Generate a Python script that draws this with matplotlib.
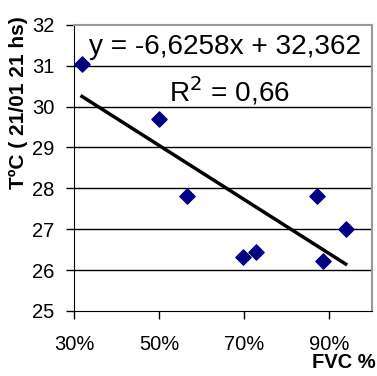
import numpy as np
import matplotlib.pyplot as plt

plt.rcParams['font.family'] = ['Liberation Sans', 'DejaVu Sans']

# FVC fraction vs temperature
fvc = [0.319, 0.50, 0.566, 0.697, 0.728, 0.870, 0.884, 0.938]
temp = [31.05, 29.70, 27.80, 26.33, 26.43, 27.80, 26.23, 27.00]
slope, intercept = -6.6258, 32.362

fig = plt.figure(figsize=(3.77, 3.76), dpi=100)
ax = fig.add_axes([0.196, 0.173, 0.791, 0.761])

for yv in range(26, 32):
    ax.axhline(yv, color='black', lw=1, zorder=1)

xl = np.array([min(fvc), max(fvc)])
ax.plot(xl, slope * xl + intercept, color='black', lw=2.5, zorder=2)
ax.scatter(fvc, temp, marker='D', s=60, color='#000080', zorder=3)

ax.set_xlim(0.3, 1.0)
ax.set_ylim(25, 32)
ax.set_xticks([0.3, 0.5, 0.7, 0.9])
ax.set_xticklabels(['30%', '50%', '70%', '90%'])
ax.set_yticks(range(25, 33))
ax.tick_params(labelsize=14.5, direction='out', length=6, width=1, pad=8)
ax.tick_params(axis='x', pad=11.5)

for s in ['top', 'right']:
    ax.spines[s].set_color('#999999')
    ax.spines[s].set_linewidth(1.5)
for s in ['left', 'bottom']:
    ax.spines[s].set_color('black')

ax.text(0.335, 31.45, 'y = -6,6258x + 32,362', fontsize=20.2, va='center', zorder=4)
ax.text(0.524, 30.38, 'R$^2$ = 0,66', fontsize=20.2, va='center', zorder=4)

fig.text(0.048, 0.726, 'TºC ( 21/01 21 hs)', rotation=90, fontsize=15,
         fontweight='bold', ha='center', va='center')
fig.text(0.828, 0.035, 'FVC %', fontsize=14.5, fontweight='bold', ha='left', va='center')

fig.savefig('out.png', dpi=100)
